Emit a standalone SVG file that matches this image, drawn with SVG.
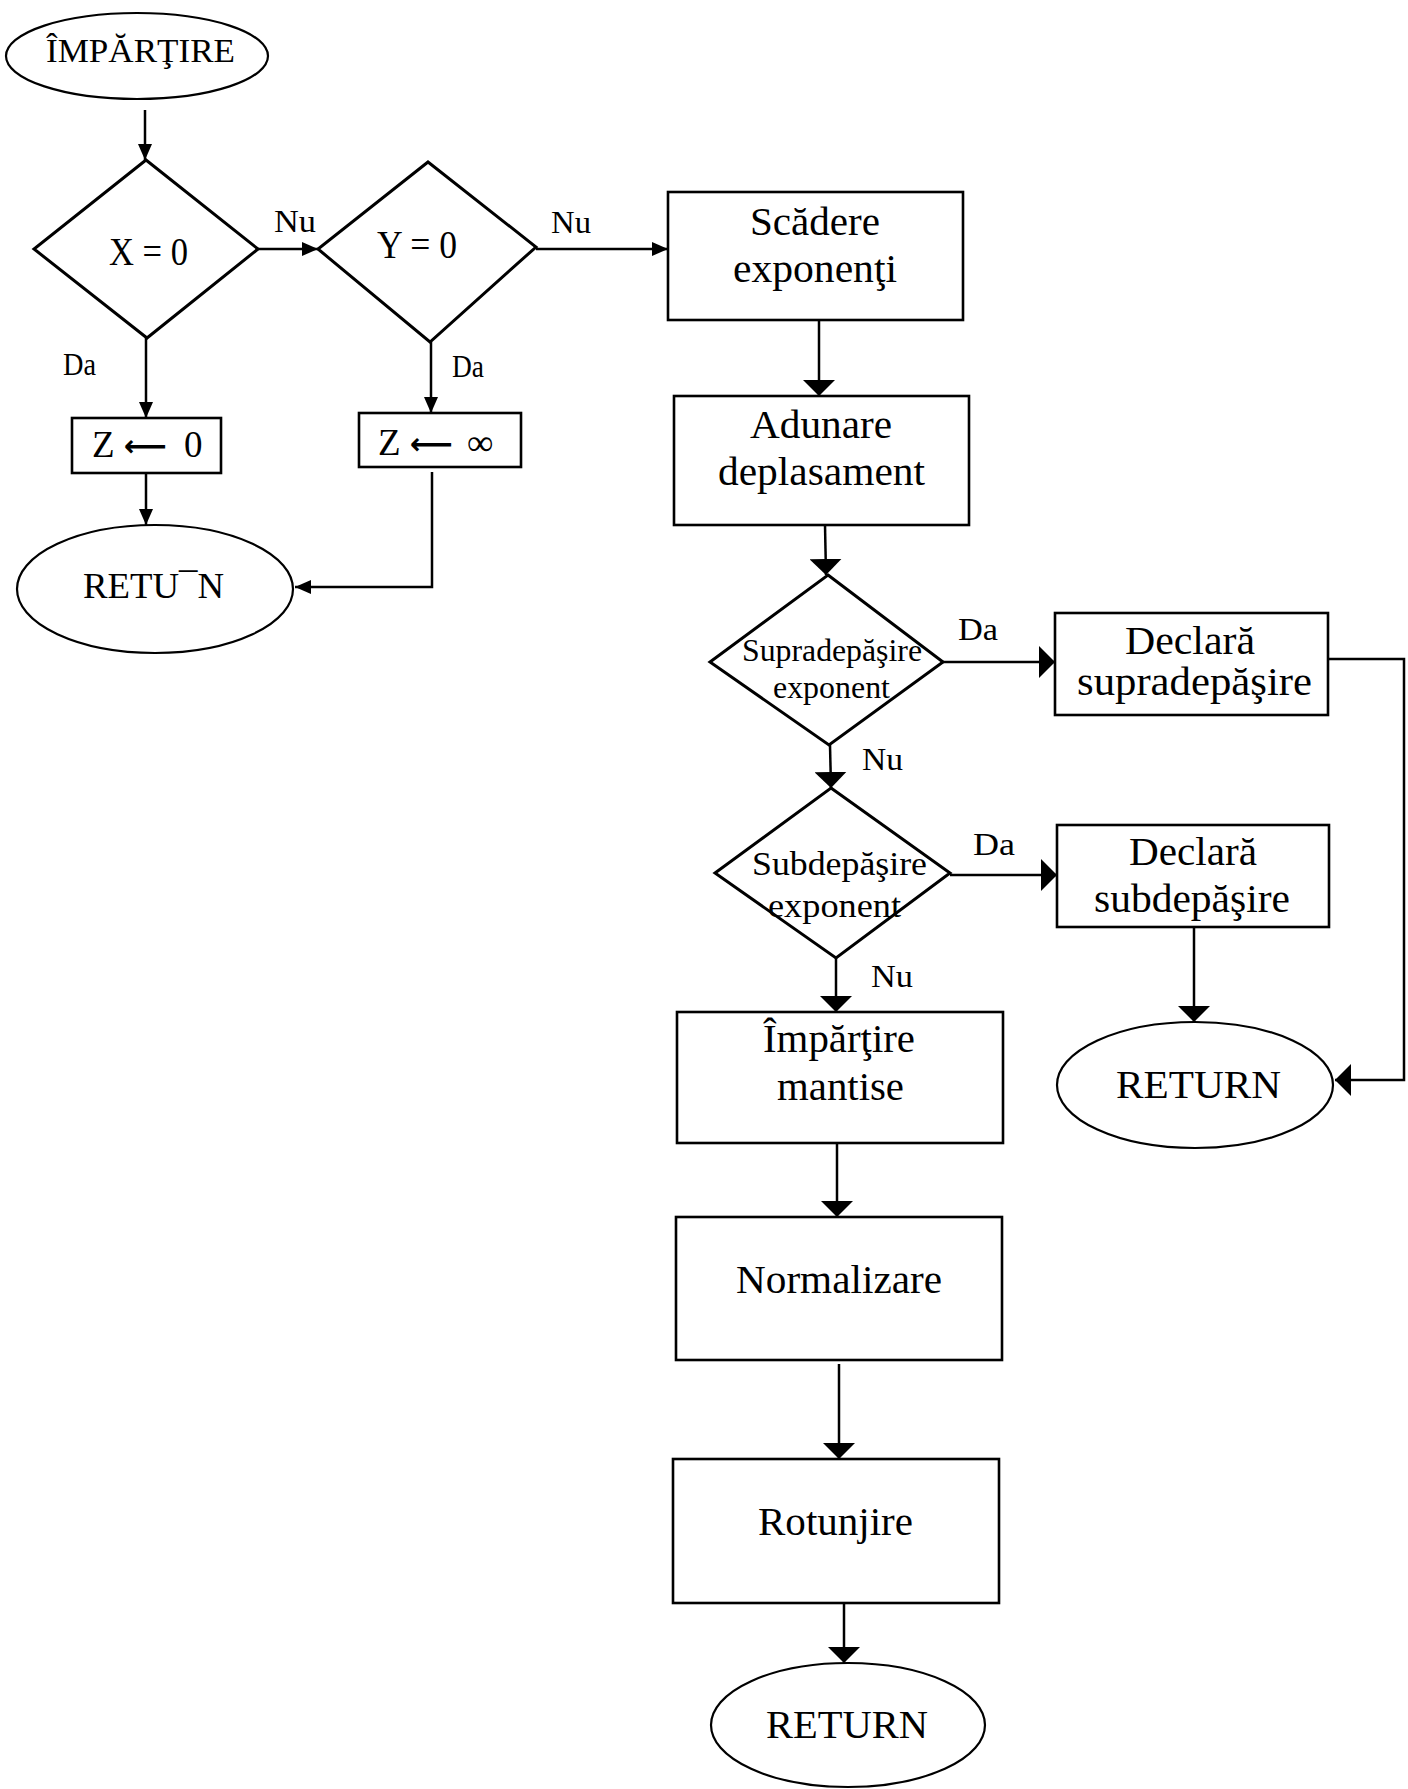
<svg xmlns="http://www.w3.org/2000/svg" width="1408" height="1789" viewBox="0 0 1408 1789">
  <style>
    .shape { fill: none; stroke: #000; stroke-width: 2.6; }
    .dia { fill: none; stroke: #000; stroke-width: 3; stroke-linejoin: miter; }
    .oval { fill: none; stroke: #000; stroke-width: 2.2; }
    .edge { fill: none; stroke: #000; stroke-width: 2.5; }
    .sm { marker-end: url(#headSmall); }
    .bg { marker-end: url(#headBig); }
    text { font-family: "Liberation Serif", "Times New Roman", serif; fill: #000; }
    .t38 { font-size: 39px; }
    .t33 { font-size: 33px; }
    .t30 { font-size: 31px; }
    .lbl { font-size: 32px; }
    .arr { font-family: "DejaVu Sans", sans-serif; font-weight: bold; }
  </style>
  <defs>
    <marker id="headSmall" markerUnits="userSpaceOnUse" markerWidth="16" markerHeight="14" refX="16" refY="7" orient="auto">
      <path d="M0,0 L16,7 L0,14 z" fill="#000"/>
    </marker>
    <marker id="headBig" markerUnits="userSpaceOnUse" markerWidth="16" markerHeight="32" refX="16" refY="16" orient="auto">
      <path d="M0,0 L16,16 L0,32 z" fill="#000"/>
    </marker>
  </defs>
  <rect width="1408" height="1789" fill="#fff"/>

  <!-- connectors -->
  <g id="connectors">
    <line class="edge sm" x1="145" y1="110" x2="145" y2="160"/>
    <line class="edge sm" x1="258" y1="249" x2="318" y2="249"/>
    <line class="edge sm" x1="536" y1="249" x2="668" y2="249"/>
    <line class="edge sm" x1="146" y1="338" x2="146" y2="418"/>
    <line class="edge sm" x1="431" y1="342" x2="431" y2="413"/>
    <line class="edge sm" x1="146" y1="473" x2="146" y2="525"/>
    <polyline class="edge sm" points="432,472 432,587 295,587"/>
    <line class="edge bg" x1="819" y1="320" x2="819" y2="396"/>
    <line class="edge bg" x1="825" y1="525" x2="826" y2="575"/>
    <line class="edge bg" x1="943" y1="662" x2="1055" y2="662"/>
    <polyline class="edge bg" points="1328,659 1404,659 1404,1080 1335,1080"/>
    <line class="edge bg" x1="830" y1="745" x2="831" y2="788"/>
    <line class="edge bg" x1="950" y1="875" x2="1057" y2="875"/>
    <line class="edge bg" x1="1194" y1="927" x2="1194" y2="1022"/>
    <line class="edge bg" x1="836" y1="958" x2="836" y2="1012"/>
    <line class="edge bg" x1="837" y1="1143" x2="837" y2="1217"/>
    <line class="edge bg" x1="839" y1="1364" x2="839" y2="1459"/>
    <line class="edge bg" x1="844" y1="1603" x2="844" y2="1663"/>
  </g>

  <!-- branch labels -->
  <g id="labels" class="lbl">
    <text x="274" y="232" textLength="42" lengthAdjust="spacingAndGlyphs">Nu</text>
    <text x="551" y="233" textLength="40" lengthAdjust="spacingAndGlyphs">Nu</text>
    <text x="63" y="375" textLength="33" lengthAdjust="spacingAndGlyphs">Da</text>
    <text x="452" y="377" textLength="32" lengthAdjust="spacingAndGlyphs">Da</text>
    <text x="958" y="640" textLength="40" lengthAdjust="spacingAndGlyphs">Da</text>
    <text x="862" y="770" textLength="41" lengthAdjust="spacingAndGlyphs">Nu</text>
    <text x="973" y="855" textLength="42" lengthAdjust="spacingAndGlyphs">Da</text>
    <text x="871" y="987" textLength="42" lengthAdjust="spacingAndGlyphs">Nu</text>
  </g>

  <g id="start">
    <ellipse class="oval" cx="137" cy="56" rx="131" ry="43"/>
    <text class="t33" x="46" y="62" textLength="189" lengthAdjust="spacingAndGlyphs">ÎMPĂRŢIRE</text>
  </g>

  <g id="testX">
    <polygon class="dia" points="146,160 258,249 147,338 34,249"/>
    <text x="109" y="265" font-size="40" textLength="79" lengthAdjust="spacingAndGlyphs">X = 0</text>
  </g>

  <g id="testY">
    <polygon class="dia" points="428,162 536,247 430,342 318,249"/>
    <text x="377" y="258" font-size="40" textLength="80" lengthAdjust="spacingAndGlyphs">Y = 0</text>
  </g>

  <g id="zeroResult">
    <rect class="shape" x="72" y="418" width="149" height="55"/>
    <text y="457" font-size="37"><tspan x="92">Z</tspan> <tspan class="arr" x="124" dy="-1" font-size="30">⟵</tspan> <tspan x="184" dy="1">0</tspan></text>
  </g>

  <g id="infResult">
    <rect class="shape" x="359" y="413" width="162" height="54"/>
    <text y="455" font-size="37"><tspan x="378">Z</tspan> <tspan class="arr" x="410" dy="-1" font-size="30">⟵</tspan> <tspan x="467" dy="1">∞</tspan></text>
  </g>

  <g id="returnLeft">
    <ellipse class="oval" cx="155" cy="589" rx="138" ry="64"/>
    <text x="83" y="598" font-size="35" textLength="141" lengthAdjust="spacingAndGlyphs">RETU¯N</text>
  </g>

  <g id="expSub">
    <rect class="shape" x="668" y="192" width="295" height="128"/>
    <text class="t38" x="750" y="235" textLength="130" lengthAdjust="spacingAndGlyphs">Scădere</text>
    <text class="t38" x="733" y="282" textLength="164" lengthAdjust="spacingAndGlyphs">exponenţi</text>
  </g>

  <g id="biasAdd">
    <rect class="shape" x="674" y="396" width="295" height="129"/>
    <text class="t38" x="750" y="438" textLength="142" lengthAdjust="spacingAndGlyphs">Adunare</text>
    <text class="t38" x="718" y="485" textLength="207" lengthAdjust="spacingAndGlyphs">deplasament</text>
  </g>

  <g id="overflowTest">
    <polygon class="dia" points="828,575 943,662 829,745 710,662"/>
    <text class="t30" x="742" y="661" textLength="180" lengthAdjust="spacingAndGlyphs">Supradepăşire</text>
    <text class="t30" x="773" y="698" textLength="117" lengthAdjust="spacingAndGlyphs">exponent</text>
  </g>

  <g id="overflowDecl">
    <rect class="shape" x="1055" y="613" width="273" height="102"/>
    <text class="t38" x="1125" y="654" textLength="130" lengthAdjust="spacingAndGlyphs">Declară</text>
    <text class="t38" x="1077" y="695" textLength="235" lengthAdjust="spacingAndGlyphs">supradepăşire</text>
  </g>

  <g id="underflowTest">
    <polygon class="dia" points="831,788 950,873 836,958 715,873"/>
    <text class="t33" x="752" y="875" textLength="175" lengthAdjust="spacingAndGlyphs">Subdepăşire</text>
    <text class="t33" x="768" y="917" textLength="133" lengthAdjust="spacingAndGlyphs">exponent</text>
  </g>

  <g id="underflowDecl">
    <rect class="shape" x="1057" y="825" width="272" height="102"/>
    <text class="t38" x="1129" y="865" textLength="128" lengthAdjust="spacingAndGlyphs">Declară</text>
    <text class="t38" x="1094" y="912" textLength="196" lengthAdjust="spacingAndGlyphs">subdepăşire</text>
  </g>

  <g id="returnRight">
    <ellipse class="oval" cx="1195" cy="1085" rx="138" ry="63"/>
    <text class="t38" x="1116" y="1098" textLength="165" lengthAdjust="spacingAndGlyphs">RETURN</text>
  </g>

  <g id="mantDiv">
    <rect class="shape" x="677" y="1012" width="326" height="131"/>
    <text class="t38" x="763" y="1052" textLength="152" lengthAdjust="spacingAndGlyphs">Împărţire</text>
    <text class="t38" x="777" y="1100" textLength="127" lengthAdjust="spacingAndGlyphs">mantise</text>
  </g>

  <g id="normalize">
    <rect class="shape" x="676" y="1217" width="326" height="143"/>
    <text class="t38" x="736" y="1293" textLength="206" lengthAdjust="spacingAndGlyphs">Normalizare</text>
  </g>

  <g id="rounding">
    <rect class="shape" x="673" y="1459" width="326" height="144"/>
    <text class="t38" x="758" y="1535" textLength="155" lengthAdjust="spacingAndGlyphs">Rotunjire</text>
  </g>

  <g id="returnEnd">
    <ellipse class="oval" cx="848" cy="1725" rx="137" ry="62"/>
    <text class="t38" x="766" y="1738" textLength="162" lengthAdjust="spacingAndGlyphs">RETURN</text>
  </g>
</svg>
